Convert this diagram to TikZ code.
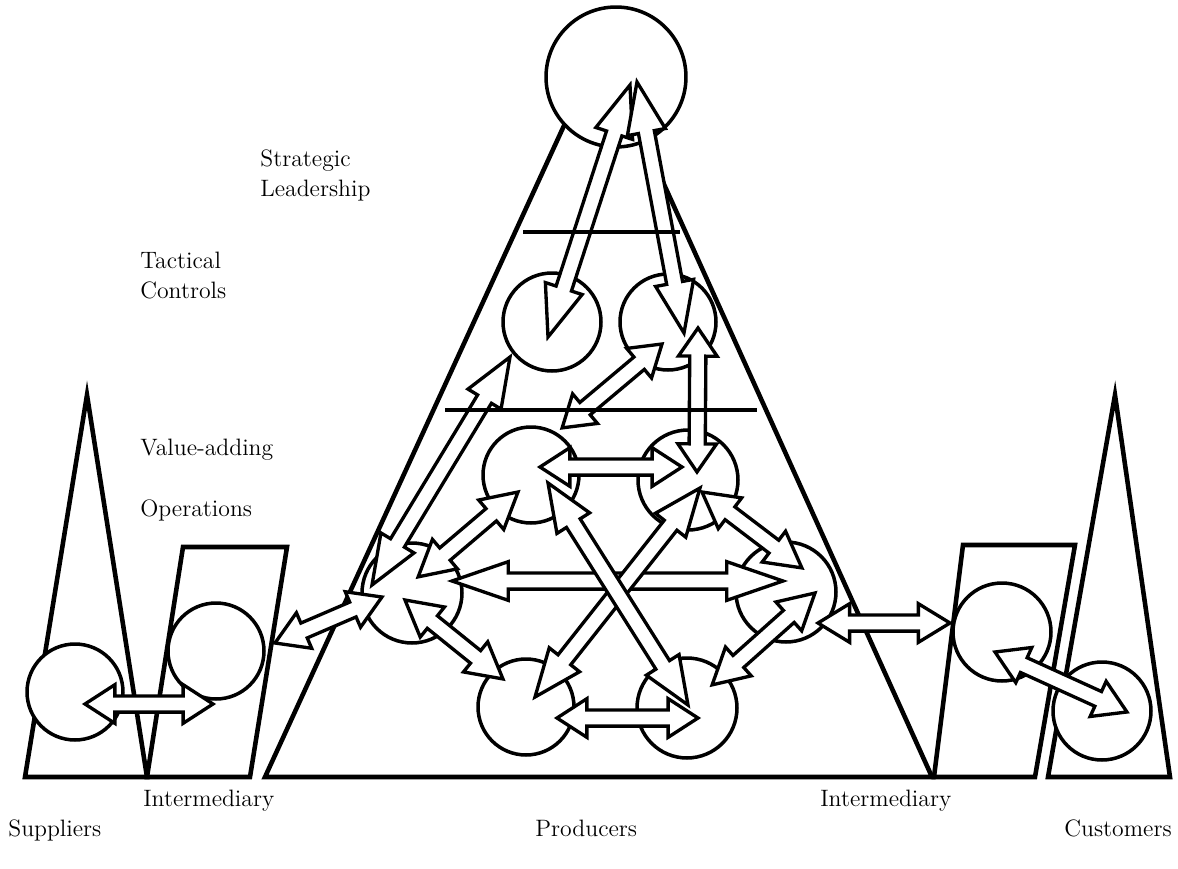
\documentclass[tikz,border=0pt]{standalone}
\usetikzlibrary{calc}
\def\arH{11pt}
\def\arS{4.6pt}
\newcommand\barr[3][17]{%
  \pgfpointdiff{\pgfpointanchor{#2}{center}}{\pgfpointanchor{#3}{center}}%
  \pgfgetlastxy{\arDX}{\arDY}%
  \pgfmathsetmacro\arAng{atan2(\arDY,\arDX)}%
  \pgfmathsetmacro\arLen{veclen(\arDX,\arDY)}%
  \pgfmathsetmacro\arK{#1}%
  \pgfmathsetmacro\arM{\arLen-\arK}%
  \begin{scope}[shift={(#2)}, rotate=\arAng]
    \draw[blk] (0pt,0pt) -- (\arK pt,\arH) -- (\arK pt,\arS) -- (\arM pt,\arS)
      -- (\arM pt,\arH) -- (\arLen pt,0pt) -- (\arM pt,-\arH) -- (\arM pt,-\arS)
      -- (\arK pt,-\arS) -- (\arK pt,-\arH) -- cycle;
  \end{scope}}
\begin{document}
\begin{tikzpicture}[x=0.02cm,y=-0.02cm,
  poly/.style={draw,line width=2.6pt,line join=miter},
  circ/.style={draw,fill=white,circle,line width=2pt,inner sep=0pt},
  blk/.style={draw,fill=white,line width=1.9pt,line join=miter},
  lvl/.style={line width=1.8pt},
  lab/.style={anchor=base west,inner sep=0pt,font=\fontsize{13.5}{16}\selectfont}]
\useasboundingbox (0,0) rectangle (1178,869);

% polygons
\coordinate (mA) at (601,45);
\coordinate (mL) at (265,777);
\coordinate (mR) at (932,777);
\draw[poly] (mA) -- (mL) -- (mR) -- cycle;
\coordinate (sA) at (87,395);
\coordinate (sL) at (25,777);
\coordinate (sR) at (147,777);
\draw[poly] (sA) -- (sL) -- (sR) -- cycle;
\coordinate (iL1) at (183,547);
\coordinate (iL2) at (287,547);
\coordinate (iL3) at (250,777);
\draw[poly] (iL1) -- (iL2) -- (iL3) -- (sR) -- cycle;
\coordinate (iR1) at (963,545);
\coordinate (iR2) at (1075,545);
\coordinate (iR3) at (1035,777);
\coordinate (iR4) at (934,777);
\draw[poly] (iR1) -- (iR2) -- (iR3) -- (iR4) -- cycle;
\coordinate (cA) at (1115,395);
\coordinate (cL) at (1048,777);
\coordinate (cR) at (1170,777);
\draw[poly] (cA) -- (cL) -- (cR) -- cycle;

% circles
\node[circ,minimum size=2.8cm] (top) at (616,77) {};
\node[circ,minimum size=1.96cm] (tacL) at (552,322) {};
\node[circ,minimum size=1.92cm] (tacR) at (668,322) {};
\node[circ,minimum size=1.92cm] (vaL) at (531,475) {};
\node[circ,minimum size=2cm] (vaR) at (688,480) {};
\node[circ,minimum size=2cm] (opL) at (412,593) {};
\node[circ,minimum size=2cm] (opR) at (786,592) {};
\node[circ,minimum size=1.92cm] (botL) at (526,707) {};
\node[circ,minimum size=2cm] (botR) at (687,708) {};
\node[circ,minimum size=1.92cm] (sup) at (75,692) {};
\node[circ,minimum size=1.92cm] (intL) at (216,651) {};
\node[circ,minimum size=1.96cm] (intR) at (1002,632) {};
\node[circ,minimum size=1.96cm] (cus) at (1102,711) {};

% arrow end points
\coordinate (a1s) at (630,85);  \coordinate (a1e) at (548,337);
\coordinate (a2s) at (637,82);  \coordinate (a2e) at (684,333);
\coordinate (a3s) at (372,585); \coordinate (a3e) at (510,357);
\coordinate (h1s) at (540,467); \coordinate (h1e) at (682,467);
\coordinate (h2s) at (518,492); \coordinate (h2e) at (418,577);
\coordinate (h3s) at (702,492); \coordinate (h3e) at (802,568);
\coordinate (h4s) at (452,581); \coordinate (h4e) at (783,581);
\coordinate (h5s) at (405,600); \coordinate (h5e) at (503,679);
\coordinate (h6s) at (557,718); \coordinate (h6e) at (698,718);
\coordinate (h7s) at (815,593); \coordinate (h7e) at (712,685);
\coordinate (h8s) at (548,483); \coordinate (h8e) at (688,705);
\coordinate (h9s) at (700,488); \coordinate (h9e) at (535,697);
\coordinate (h10s) at (698,328); \coordinate (h10e) at (697,472);
\coordinate (h11s) at (662,344); \coordinate (h11e) at (562,428);
\coordinate (e1s) at (275,643); \coordinate (e1e) at (382,597);
\coordinate (e2s) at (818,623); \coordinate (e2e) at (950,623);
\coordinate (e3s) at (85,704);  \coordinate (e3e) at (213,704);
\coordinate (e4s) at (995,652); \coordinate (e4e) at (1127,712);

% arrows
\barr[28]{a3s}{a3e}
\barr[20]{h2s}{h2e}
\barr[20]{h5s}{h5e}
\barr[20]{h3s}{h3e}
\barr[20]{h7s}{h7e}
\barr[32]{h4s}{h4e}
\barr[27]{h9s}{h9e}
\barr[27]{h8s}{h8e}
\barr[17]{h1s}{h1e}
\barr[17]{h6s}{h6e}
\barr[16]{h10s}{h10e}
\barr[17]{h11s}{h11e}
\barr[29]{a1s}{a1e}
\barr[29]{a2s}{a2e}
\barr[18]{e1s}{e1e}
\barr[18]{e2s}{e2e}
\barr[17]{e3s}{e3e}
\barr[18]{e4s}{e4e}

% level lines
\coordinate (l1a) at (523,232); \coordinate (l1b) at (680,232);
\coordinate (l2a) at (445,410); \coordinate (l2b) at (757,410);
\draw[lvl] (l1a) -- (l1b);
\draw[lvl] (l2a) -- (l2b);

% labels
\node[lab] (t1) at (260,166) {Strategic};
\node[lab] (t2) at (260,196) {Leadership};
\node[lab] (t3) at (140,268) {Tactical};
\node[lab] (t4) at (140,298) {Controls};
\node[lab] (t5) at (140,455) {Value-adding};
\node[lab] (t6) at (140,516) {Operations};
\node[lab] (t7) at (143,806) {Intermediary};
\node[lab] (t8) at (8,836) {Suppliers};
\node[lab] (t9) at (535,836) {Producers};
\node[lab] (t10) at (820,806) {Intermediary};
\node[lab] (t11) at (1064,836) {Customers};
\end{tikzpicture}
\end{document}
